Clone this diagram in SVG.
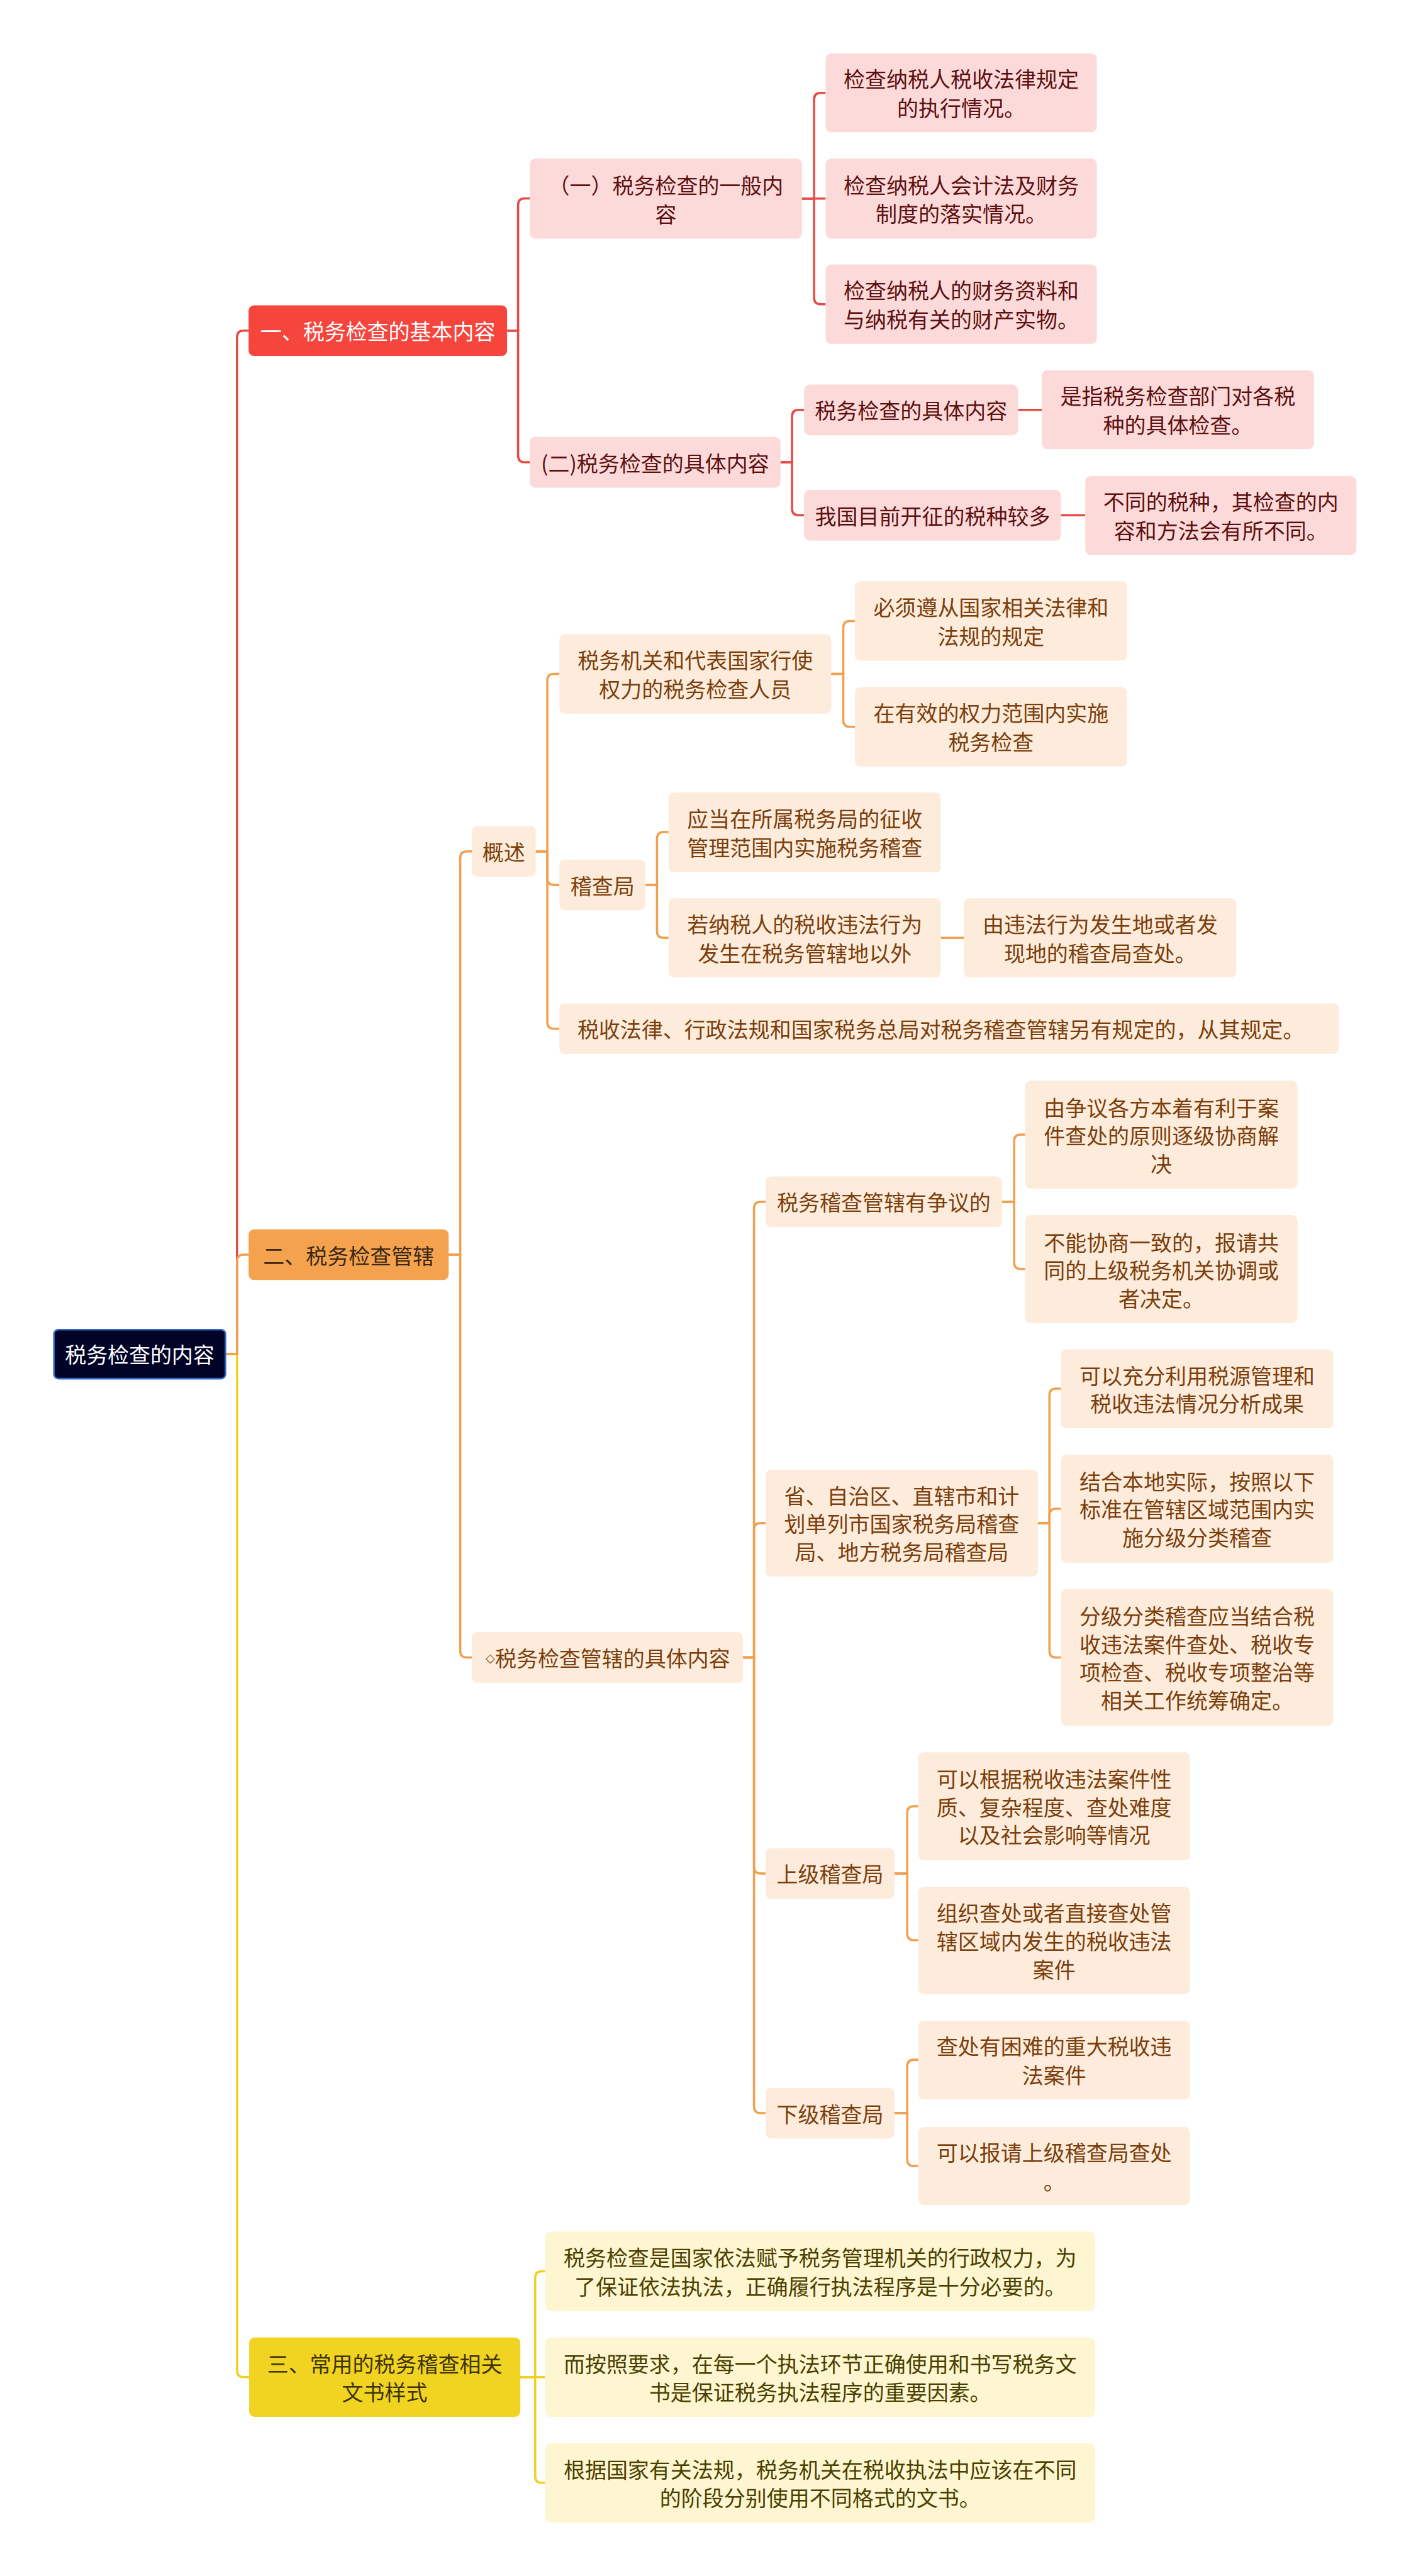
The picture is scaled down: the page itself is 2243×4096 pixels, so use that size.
<svg xmlns="http://www.w3.org/2000/svg" width="2243" height="4096" viewBox="0 0 2243 4096">
<style>
text{font-family:"Noto Sans CJK SC","Liberation Sans",sans-serif;font-size:38.8px;text-anchor:middle;dominant-baseline:central}
.dm{font-family:"DejaVu Sans",sans-serif;font-size:22px}
.cr{fill:none;stroke:#e84a43;stroke-width:4}
.co{fill:none;stroke:#f0a04f;stroke-width:4}
.cy{fill:none;stroke:#f0d020;stroke-width:4}
.pk rect{fill:#fddada}.pk text{fill:#5c1010}
.pe rect{fill:#fdecdb}.pe text{fill:#7b3e0c}
.cm rect{fill:#fdf6d0}.cm text{fill:#4a3f00}
</style>
<rect width="2243" height="4096" fill="#ffffff"/>
<g transform="scale(0.87617)">
<g id="connectors">
<path class="cr" d="M409,2457 H430 V612 Q430,600 442,600 H451"/>
<path class="cy" d="M409,2457 H430 V4302 Q430,4314 442,4314 H452"/>
<path class="co" d="M409,2457 H430 V2289 Q430,2277 442,2277 H451"/>
<path class="cr" d="M920,600 H940 V372 Q940,360 952,360 H961"/>
<path class="cr" d="M920,600 H940 V827 Q940,839 952,839 H961"/>
<path class="cr" d="M1455,360.5 H1477 V180.5 Q1477,168.5 1489,168.5 H1498"/>
<path class="cr" d="M1455,360.5 H1498"/>
<path class="cr" d="M1455,360.5 H1477 V540 Q1477,552 1489,552 H1498"/>
<path class="cr" d="M1416,839 H1437 V756 Q1437,744 1449,744 H1459"/>
<path class="cr" d="M1416,839 H1437 V923 Q1437,935 1449,935 H1459"/>
<path class="cr" d="M1847,744 H1890"/>
<path class="cr" d="M1925,935 H1969"/>
<path class="co" d="M814,2277 H835 V1557 Q835,1545 847,1545 H856"/>
<path class="co" d="M814,2277 H835 V2996 Q835,3008 847,3008 H856"/>
<path class="co" d="M972,1545 H993 V1235 Q993,1223 1005,1223 H1015"/>
<path class="co" d="M972,1545 H993 V1594 Q993,1606 1005,1606 H1015"/>
<path class="co" d="M972,1545 H993 V1855 Q993,1867 1005,1867 H1015"/>
<path class="co" d="M1508,1223 H1530 V1139 Q1530,1127 1542,1127 H1551"/>
<path class="co" d="M1508,1223 H1530 V1307 Q1530,1319 1542,1319 H1551"/>
<path class="co" d="M1171,1606 H1192 V1522 Q1192,1510 1204,1510 H1213"/>
<path class="co" d="M1171,1606 H1192 V1690 Q1192,1702 1204,1702 H1213"/>
<path class="co" d="M1707,1702 H1749"/>
<path class="co" d="M1348,3008 H1368 V2193 Q1368,2181 1380,2181 H1389"/>
<path class="co" d="M1348,3008 H1368 V2776 Q1368,2764 1380,2764 H1389"/>
<path class="co" d="M1348,3008 H1368 V3388 Q1368,3400 1380,3400 H1389"/>
<path class="co" d="M1348,3008 H1368 V3823 Q1368,3835 1380,3835 H1389"/>
<path class="co" d="M1818,2181 H1840 V2071 Q1840,2059 1852,2059 H1860"/>
<path class="co" d="M1818,2181 H1840 V2291 Q1840,2303 1852,2303 H1860"/>
<path class="co" d="M1883,2764 H1904 V2532 Q1904,2520 1916,2520 H1925"/>
<path class="co" d="M1883,2764 H1904 V2750 Q1904,2738 1916,2738 H1925"/>
<path class="co" d="M1883,2764 H1904 V2996 Q1904,3008 1916,3008 H1925"/>
<path class="co" d="M1623,3400 H1646 V3290 Q1646,3278 1658,3278 H1666"/>
<path class="co" d="M1623,3400 H1646 V3509 Q1646,3521 1658,3521 H1666"/>
<path class="co" d="M1623,3835 H1646 V3750 Q1646,3738 1658,3738 H1666"/>
<path class="co" d="M1623,3835 H1646 V3919 Q1646,3931 1658,3931 H1666"/>
<path class="cy" d="M944,4314 H971 V4134 Q971,4122 983,4122 H989"/>
<path class="cy" d="M944,4314 H989"/>
<path class="cy" d="M944,4314 H971 V4494 Q971,4506 983,4506 H989"/>
</g>

<g id="root"><rect x="98" y="2413" width="311" height="89" rx="8" fill="#000226" stroke="#3067c8" stroke-width="3"/><text x="253.5" y="2457" fill="#ffffff">税务检查的内容</text></g>

<g id="n1"><rect x="451" y="554" width="469" height="92" rx="10" fill="#f5453d"/><text x="685.5" y="600" fill="#ffffff">一、税务检查的基本内容</text></g>
<g id="n2"><rect x="451" y="2231" width="363" height="92" rx="10" fill="#f5a24f"/><text x="632.5" y="2277" fill="#3a2814">二、税务检查管辖</text></g>
<g id="n3"><rect x="452" y="4242" width="492" height="144" rx="10" fill="#f1d322"/><text x="698" y="4288" fill="#3d3400">三、常用的税务稽查相关</text><text x="698" y="4340" fill="#3d3400">文书样式</text></g>

<g id="a1" class="pk"><rect x="961" y="288" width="494" height="145" rx="10"/><text x="1208" y="335">（一）税务检查的一般内</text><text x="1208" y="387">容</text></g>
<g id="a2" class="pk"><rect x="961" y="793" width="455" height="92" rx="10"/><text x="1188.5" y="839">(二)税务检查的具体内容</text></g>
<g id="a11" class="pk"><rect x="1498" y="97" width="492" height="143" rx="10"/><text x="1744" y="142.5">检查纳税人税收法律规定</text><text x="1744" y="194.5">的执行情况。</text></g>
<g id="a12" class="pk"><rect x="1498" y="288" width="492" height="145" rx="10"/><text x="1744" y="334.5">检查纳税人会计法及财务</text><text x="1744" y="386.5">制度的落实情况。</text></g>
<g id="a13" class="pk"><rect x="1498" y="480" width="492" height="144" rx="10"/><text x="1744" y="526">检查纳税人的财务资料和</text><text x="1744" y="578">与纳税有关的财产实物。</text></g>
<g id="a21" class="pk"><rect x="1459" y="698" width="388" height="92" rx="10"/><text x="1653" y="744">税务检查的具体内容</text></g>
<g id="a211" class="pk"><rect x="1890" y="672" width="494" height="143" rx="10"/><text x="2137" y="717.5">是指税务检查部门对各税</text><text x="2137" y="769.5">种的具体检查。</text></g>
<g id="a22" class="pk"><rect x="1459" y="889" width="466" height="92" rx="10"/><text x="1692" y="935">我国目前开征的税种较多</text></g>
<g id="a221" class="pk"><rect x="1969" y="864" width="492" height="143" rx="10"/><text x="2215" y="909.5">不同的税种，其检查的内</text><text x="2215" y="961.5">容和方法会有所不同。</text></g>

<g id="b1" class="pe"><rect x="856" y="1499" width="116" height="92" rx="10"/><text x="914" y="1545">概述</text></g>
<g id="b11" class="pe"><rect x="1015" y="1151" width="493" height="144" rx="10"/><text x="1261.5" y="1197">税务机关和代表国家行使</text><text x="1261.5" y="1249">权力的税务检查人员</text></g>
<g id="b111" class="pe"><rect x="1551" y="1055" width="494" height="144" rx="10"/><text x="1798" y="1101">必须遵从国家相关法律和</text><text x="1798" y="1153">法规的规定</text></g>
<g id="b112" class="pe"><rect x="1551" y="1247" width="494" height="144" rx="10"/><text x="1798" y="1293">在有效的权力范围内实施</text><text x="1798" y="1345">税务检查</text></g>
<g id="b12" class="pe"><rect x="1015" y="1560" width="156" height="92" rx="10"/><text x="1093" y="1606">稽查局</text></g>
<g id="b121" class="pe"><rect x="1213" y="1438" width="494" height="145" rx="10"/><text x="1460" y="1484.5">应当在所属税务局的征收</text><text x="1460" y="1536.5">管理范围内实施税务稽查</text></g>
<g id="b122" class="pe"><rect x="1213" y="1630" width="494" height="144" rx="10"/><text x="1460" y="1676">若纳税人的税收违法行为</text><text x="1460" y="1728">发生在税务管辖地以外</text></g>
<g id="b1221" class="pe"><rect x="1749" y="1630" width="494" height="144" rx="10"/><text x="1996" y="1676">由违法行为发生地或者发</text><text x="1996" y="1728">现地的稽查局查处。</text></g>
<g id="b13" class="pe"><rect x="1015" y="1821" width="1414" height="92" rx="10"/><text x="1707" y="1867">税收法律、行政法规和国家税务总局对税务稽查管辖另有规定的，从其规定。</text></g>

<g id="b2" class="pe"><rect x="856" y="2962" width="492" height="92" rx="10"/><text x="1103" y="3008"><tspan class="dm">◇</tspan>税务检查管辖的具体内容</text></g>
<g id="b21" class="pe"><rect x="1389" y="2135" width="429" height="92" rx="10"/><text x="1603.5" y="2181">税务稽查管辖有争议的</text></g>
<g id="b211" class="pe"><rect x="1860" y="1961" width="494" height="196" rx="10"/><text x="2107" y="2009">由争议各方本着有利于案</text><text x="2107" y="2060">件查处的原则逐级协商解</text><text x="2107" y="2111">决</text></g>
<g id="b212" class="pe"><rect x="1860" y="2205" width="494" height="196" rx="10"/><text x="2107" y="2253">不能协商一致的，报请共</text><text x="2107" y="2304">同的上级税务机关协调或</text><text x="2107" y="2355">者决定。</text></g>
<g id="b22" class="pe"><rect x="1389" y="2667" width="494" height="194" rx="10"/><text x="1636" y="2713">省、自治区、直辖市和计</text><text x="1636" y="2764">划单列市国家税务局稽查</text><text x="1636" y="2815">局、地方税务局稽查局</text></g>
<g id="b221" class="pe"><rect x="1925" y="2449" width="494" height="143" rx="10"/><text x="2172" y="2495">可以充分利用税源管理和</text><text x="2172" y="2546">税收违法情况分析成果</text></g>
<g id="b222" class="pe"><rect x="1925" y="2640" width="494" height="196" rx="10"/><text x="2172" y="2687">结合本地实际，按照以下</text><text x="2172" y="2738">标准在管辖区域范围内实</text><text x="2172" y="2789">施分级分类稽查</text></g>
<g id="b223" class="pe"><rect x="1925" y="2884" width="494" height="248" rx="10"/><text x="2172" y="2931.5">分级分类稽查应当结合税</text><text x="2172" y="2982.5">收违法案件查处、税收专</text><text x="2172" y="3033.5">项检查、税收专项整治等</text><text x="2172" y="3084.5">相关工作统筹确定。</text></g>
<g id="b23" class="pe"><rect x="1389" y="3354" width="234" height="92" rx="10"/><text x="1506" y="3400">上级稽查局</text></g>
<g id="b231" class="pe"><rect x="1666" y="3180" width="493" height="196" rx="10"/><text x="1912.5" y="3227">可以根据税收违法案件性</text><text x="1912.5" y="3278">质、复杂程度、查处难度</text><text x="1912.5" y="3329">以及社会影响等情况</text></g>
<g id="b232" class="pe"><rect x="1666" y="3424" width="493" height="195" rx="10"/><text x="1912.5" y="3470.5">组织查处或者直接查处管</text><text x="1912.5" y="3521.5">辖区域内发生的税收违法</text><text x="1912.5" y="3572.5">案件</text></g>
<g id="b24" class="pe"><rect x="1389" y="3789" width="234" height="92" rx="10"/><text x="1506" y="3835">下级稽查局</text></g>
<g id="b241" class="pe"><rect x="1666" y="3667" width="493" height="143" rx="10"/><text x="1912.5" y="3712.5">查处有困难的重大税收违</text><text x="1912.5" y="3764.5">法案件</text></g>
<g id="b242" class="pe"><rect x="1666" y="3860" width="493" height="142" rx="10"/><text x="1912.5" y="3905">可以报请上级稽查局查处</text><text x="1912.5" y="3957">。</text></g>

<g id="c1" class="cm"><rect x="989" y="4050" width="998" height="144" rx="10"/><text x="1488" y="4096">税务检查是国家依法赋予税务管理机关的行政权力，为</text><text x="1488" y="4148">了保证依法执法，正确履行执法程序是十分必要的。</text></g>
<g id="c2" class="cm"><rect x="989" y="4242" width="998" height="144" rx="10"/><text x="1488" y="4288">而按照要求，在每一个执法环节正确使用和书写税务文</text><text x="1488" y="4340">书是保证税务执法程序的重要因素。</text></g>
<g id="c3" class="cm"><rect x="989" y="4434" width="998" height="144" rx="10"/><text x="1488" y="4480">根据国家有关法规，税务机关在税收执法中应该在不同</text><text x="1488" y="4532">的阶段分别使用不同格式的文书。</text></g>
</g>
</svg>
